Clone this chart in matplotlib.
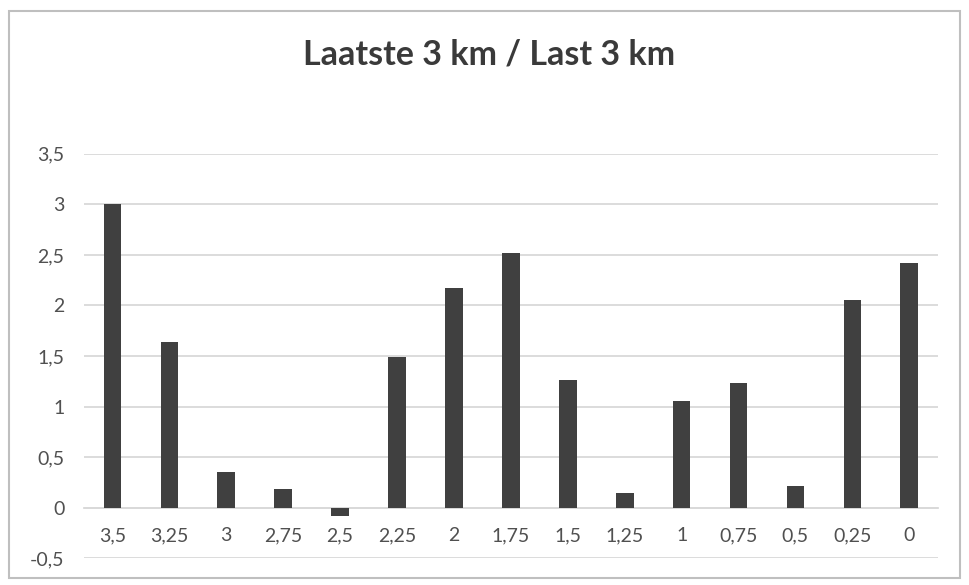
import matplotlib
matplotlib.use("Agg")
import matplotlib.pyplot as plt
from matplotlib.ticker import FuncFormatter
from matplotlib.patches import Rectangle

# afstand tot de finish (km) en waarden
categories = ["3,5", "3,25", "3", "2,75", "2,5", "2,25", "2", "1,75",
              "1,5", "1,25", "1", "0,75", "0,5", "0,25", "0"]
values = [3.0, 1.64, 0.35, 0.18, -0.08, 1.49, 2.17, 2.52,
          1.26, 0.14, 1.05, 1.23, 0.21, 2.05, 2.42]
y_ticks = [-0.5, 0, 0.5, 1, 1.5, 2, 2.5, 3, 3.5]

plt.rcParams['font.family'] = ['Lato', 'DejaVu Sans']
text_col = "#505050"
grid_col = "#d9d9d9"

fig = plt.figure(figsize=(9.69, 5.85), dpi=100)
ax = fig.add_axes([0.0867, 0.046, 0.881, 0.691])

x = list(range(len(categories)))
ax.bar(x, values, width=0.31, color="#404040", zorder=3)

ax.set_ylim(-0.5, 3.5)
ax.set_xlim(-0.5, len(categories) - 0.5)
ax.set_yticks(y_ticks)
ax.yaxis.set_major_formatter(FuncFormatter(lambda v, p: f"{v:g}".replace(".", ",")))
ax.grid(axis="y", color=grid_col, linewidth=1.3, zorder=0)

ax.set_xticks(x)
ax.set_xticklabels(categories)
ax.spines["bottom"].set_position(("data", 0))
ax.spines["bottom"].set_color(grid_col)
ax.spines["bottom"].set_linewidth(1.3)
for s in ["top", "right", "left"]:
    ax.spines[s].set_visible(False)
ax.tick_params(axis="x", length=0, pad=14, labelsize=14, labelcolor=text_col)
ax.tick_params(axis="y", length=0, pad=14, labelsize=14, labelcolor=text_col)

fig.text(0.505, 0.906, "Laatste 3 km / Last 3 km", ha="center", va="center",
         fontsize=24.5, fontweight="bold", color="#3a3a3a")

# rand om de grafiek
fig.patches.append(Rectangle((0.009, 0.012), 0.982, 0.97, transform=fig.transFigure,
                             fill=False, edgecolor="#bfbfbf", linewidth=1.5))

fig.savefig("out.png", dpi=100)
